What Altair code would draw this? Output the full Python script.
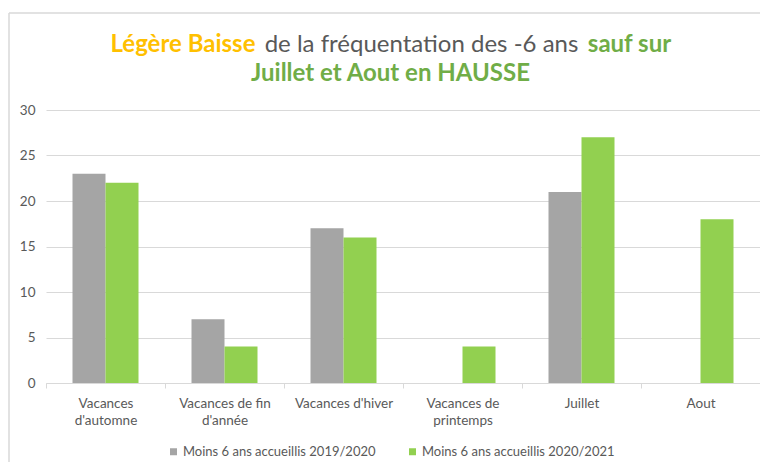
import altair as alt
import pandas as pd

categories = ["Vacances\nd'automne", "Vacances de fin\nd'année", "Vacances d'hiver",
              "Vacances de\nprintemps", "Juillet", "Aout"]
series = ["Moins 6 ans accueillis 2019/2020", "Moins 6 ans accueillis 2020/2021"]
values_2019_2020 = [23, 7, 17, None, 21, None]
values_2020_2021 = [22, 4, 16, 4, 27, 18]
colors = ["#A5A5A5", "#92D050"]
y_ticks = [0, 5, 10, 15, 20, 25, 30]

title_parts = ["Légère Baisse", "de la fréquentation des -6 ans", "sauf sur"]
title_line2 = "Juillet et Aout en HAUSSE"

rows = []
for cat, a, b in zip(categories, values_2019_2020, values_2020_2021):
    rows.append({"cat": cat, "serie": series[0], "val": a})
    rows.append({"cat": cat, "serie": series[1], "val": b})
df = pd.DataFrame(rows)

FONT = "Lato"
GRAY_TXT = "#595959"
GRID = "#D9D9D9"

bars = alt.Chart(df).transform_filter("isValid(datum.val)").mark_bar().encode(
    x=alt.X("cat:N", sort=categories, title=None,
            scale=alt.Scale(paddingInner=0, paddingOuter=0),
            axis=alt.Axis(labelExpr="split(datum.label, '\\n')", labelAngle=0,
                          tickBand="extent", ticks=True, tickSize=5, tickColor=GRID,
                          domainColor=GRID, labelColor=GRAY_TXT, labelFont=FONT,
                          labelFontSize=13.5, labelPadding=8, labelLineHeight=17,
                          labelBaseline="top", grid=False)),
    xOffset=alt.XOffset("serie:N", sort=series,
                        scale=alt.Scale(paddingInner=0, paddingOuter=0.803)),
    y=alt.Y("val:Q", title=None,
            scale=alt.Scale(domain=[0, 30]),
            axis=alt.Axis(values=y_ticks, domain=False, ticks=False, gridColor=GRID,
                          labelColor=GRAY_TXT, labelFont=FONT, labelFontSize=13.5,
                          labelPadding=11)),
    color=alt.Color("serie:N", sort=series,
                    scale=alt.Scale(domain=series, range=colors),
                    legend=alt.Legend(title=None, orient="none", legendX=121, legendY=335,
                                      direction="horizontal", symbolType="square",
                                      symbolSize=49, symbolStrokeWidth=0,
                                      labelFont=FONT, labelFontSize=13, labelLimit=0,
                                      labelColor=GRAY_TXT, columnPadding=30,
                                      labelOffset=3)),
)

one = alt.Data(values=[{}])

def txt(text, x, y, color, bold, size=24, align="center"):
    return alt.Chart(one).mark_text(
        font=FONT, fontSize=size, fontWeight="bold" if bold else "normal",
        color=color, align=align, baseline="middle"
    ).encode(x=alt.value(x), y=alt.value(y), text=alt.value(text))

t1 = txt(title_parts[0], 137, -65, "#FFC000", True)
t2 = txt(title_parts[1], 375.5, -65, GRAY_TXT, False)
t3 = txt(title_parts[2], 583.5, -65, "#70AD47", True)
t4 = txt(title_line2, 344.5, -36, "#70AD47", True)

border_left = alt.Chart(one).mark_rule(color=GRID, strokeWidth=1.5).encode(
    x=alt.value(-37), y=alt.value(-97), y2=alt.value(352))
border_top = alt.Chart(one).mark_rule(color=GRID, strokeWidth=1.5).encode(
    x=alt.value(-37), x2=alt.value(714), y=alt.value(-97))

chart = alt.layer(border_left, border_top, bars, t1, t2, t3, t4).properties(
    width=714, height=273,
    autosize=alt.AutoSizeParams(type="none"),
    padding={"left": 38, "top": 102, "right": 0, "bottom": 79},
).configure_view(stroke=None)

chart.save("out.html", embed_options={"renderer": "svg", "actions": False})
